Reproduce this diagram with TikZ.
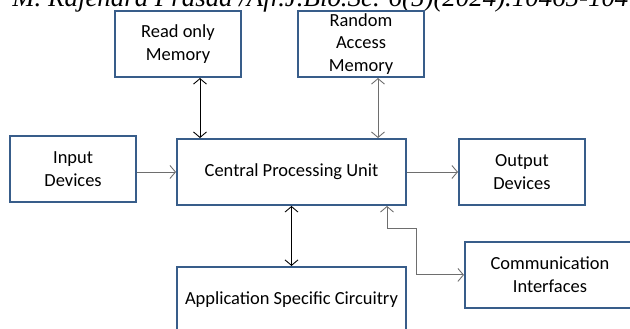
\documentclass[tikz,border=0pt]{standalone}
\usepackage{fontspec}
\setmainfont{Carlito}
\newfontfamily\headfont{Liberation Serif}
\usetikzlibrary{positioning}
\usetikzlibrary{arrows.meta}
\definecolor{boxblue}{RGB}{56,93,138}
\definecolor{linkgray}{RGB}{110,110,110}

\begin{document}
\begin{tikzpicture}[
    node distance=1.2cm and 0.78cm,
    box/.style={rectangle, draw=boxblue, line width=1.1pt, fill=white, minimum height=1.32cm, minimum width=2.52cm, align=center, font=\fontsize{10.5}{12.8}\selectfont, inner sep=1pt},
    wide/.style={box, minimum width=4.58cm},
    link/.style={line width=0.5pt, draw=linkgray},
    >={Straight Barb[length=1.1mm, width=2.6mm]}
]
    \useasboundingbox (0,0) rectangle (12.6,6.58);
    \clip (0,0) rectangle (12.6,6.58);

    % running head, cut by the page edge
    \node[anchor=base west, inner sep=0pt, font=\headfont\itshape\fontsize{15.3}{17}\selectfont] (head) at (0.24,6.44)
        {M. Rajendra Prasad /Afr.J.Bio.Sc. 6(5)(2024).10465-10475};

    \node[wide] (cpu) at (5.83,3.14) {Central Processing Unit};
    \node[box, left=0.78cm of cpu, yshift=0.06cm] (input) {Input\\Devices};
    \node[box, right=1.02cm of cpu] (output) {Output\\Devices};
    \node[box, above=of cpu, xshift=-2.27cm] (rom) {Read only\\Memory};
    \node[box, above=of cpu, xshift=1.39cm] (ram) {Random\\Access\\Memory};
    \node[wide, below=of cpu] (asc) {Application Specific Circuitry};
    \node[box, minimum width=3.4cm, anchor=north west] (comm) at ([xshift=1.14cm, yshift=-0.70cm]cpu.south east) {Communication\\Interfaces};

    \draw[<->, link, draw=black] ([xshift=0.44cm]rom.south) -- ([xshift=0.44cm]rom.south |- cpu.north);
    \draw[<->, link] ([xshift=0.34cm]ram.south) -- ([xshift=0.34cm]ram.south |- cpu.north);
    \draw[->, link] (input.east |- cpu.west) -- (cpu.west);
    \draw[->, link] (cpu) -- (output);
    \draw[<->, link, draw=black] (cpu) -- (asc);
    \draw[<->, link] ([xshift=1.91cm]cpu.south) -- ++(0,-0.44) -- ++(0.58,0) |- (comm.west);
\end{tikzpicture}
\end{document}
